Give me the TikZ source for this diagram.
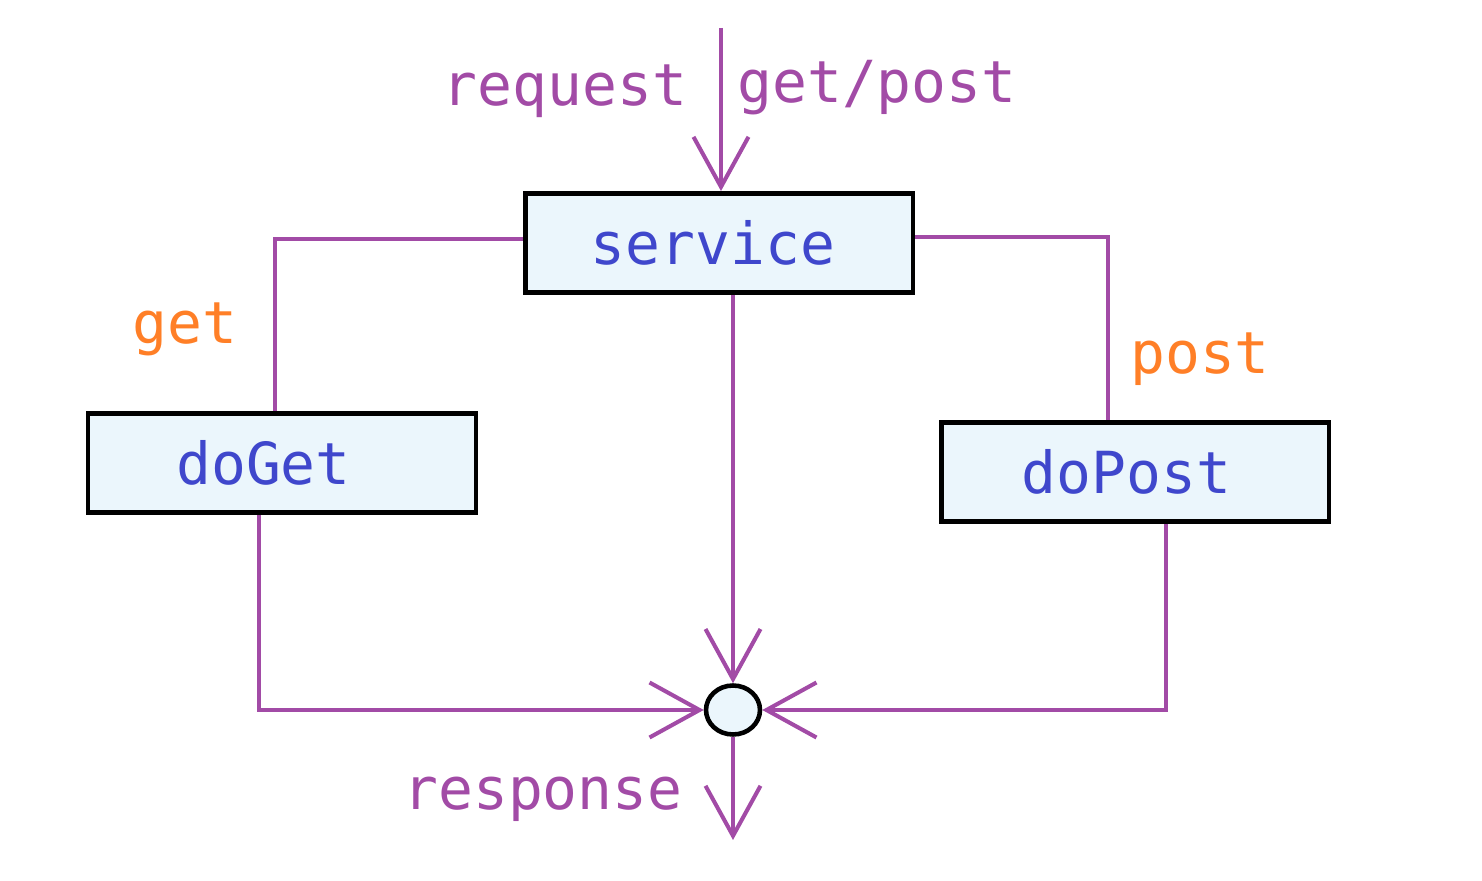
\documentclass[tikz,border=0pt]{standalone}
\usepackage{fontspec}
\setmonofont{DejaVu Sans Mono}
\usetikzlibrary{arrows.meta,positioning,calc,shapes.geometric}
\definecolor{flow}{HTML}{A24BA6}
\definecolor{ink}{HTML}{3F47CC}
\definecolor{tag}{HTML}{FF7F27}
\definecolor{pale}{HTML}{EBF6FC}
\tikzset{callbox/.style={draw=black,fill=pale,line width=2.8pt,minimum width=7.76cm,
 minimum height=1.98cm,inner sep=0pt,font=\fontsize{33}{39}\selectfont\ttfamily,text=ink},
 flowline/.style={draw=flow,line width=2.3pt},
 flowarrow/.style={flowline,-{Straight Barb[length=1cm,width=1.1cm,line width=2.3pt]}},
 flowlabel/.style={font=\fontsize{33}{39}\selectfont\ttfamily,text=flow,inner sep=0pt},
 taglabel/.style={flowlabel,text=tag}}
\begin{document}
\begin{tikzpicture}[x=0.02cm,y=-0.02cm]
\useasboundingbox (0,0) rectangle (1482,881);
\node[callbox] (service) at (719,243) {\hspace*{-7pt}service};
\node[callbox] (doGet) at (282,463) {\hspace*{-21pt}doGet};
\node[callbox] (doPost) at (1135,472) {\hspace*{-10pt}doPost};
\node[ellipse,draw=black,fill=pale,line width=2.6pt,minimum width=1.08cm,minimum height=0.98cm,inner sep=0pt] (join) at (733,710) {};
\coordinate (in) at (721,28);
\coordinate (out) at (733,840);
\node[flowlabel] (request) at (565,91) {request};
\node[flowlabel] (method) at (877,88) {get/post};
\node[taglabel] (getlbl) at (185,329) {get};
\node[taglabel] (postlbl) at (1200,359) {post};
\node[flowlabel] (response) at (543,799) {response};
\draw[flowarrow] (in)--(in |- service.north);
\draw[flowline] ($(service.west)+(0,-4)$) -| ($(doGet.north)+(-7,0)$);
\draw[flowline] ($(service.east)+(0,-6)$) -| ($(doPost.north)+(-27,0)$);
\draw[flowarrow] (service.south -| join)--(join.north);
\draw[flowarrow] ($(doGet.south)+(-23,0)$) |- (join.west);
\draw[flowarrow] ($(doPost.south)+(31,0)$) |- (join.east);
\draw[flowarrow] (join.south)--(out);
\end{tikzpicture}
\end{document}
